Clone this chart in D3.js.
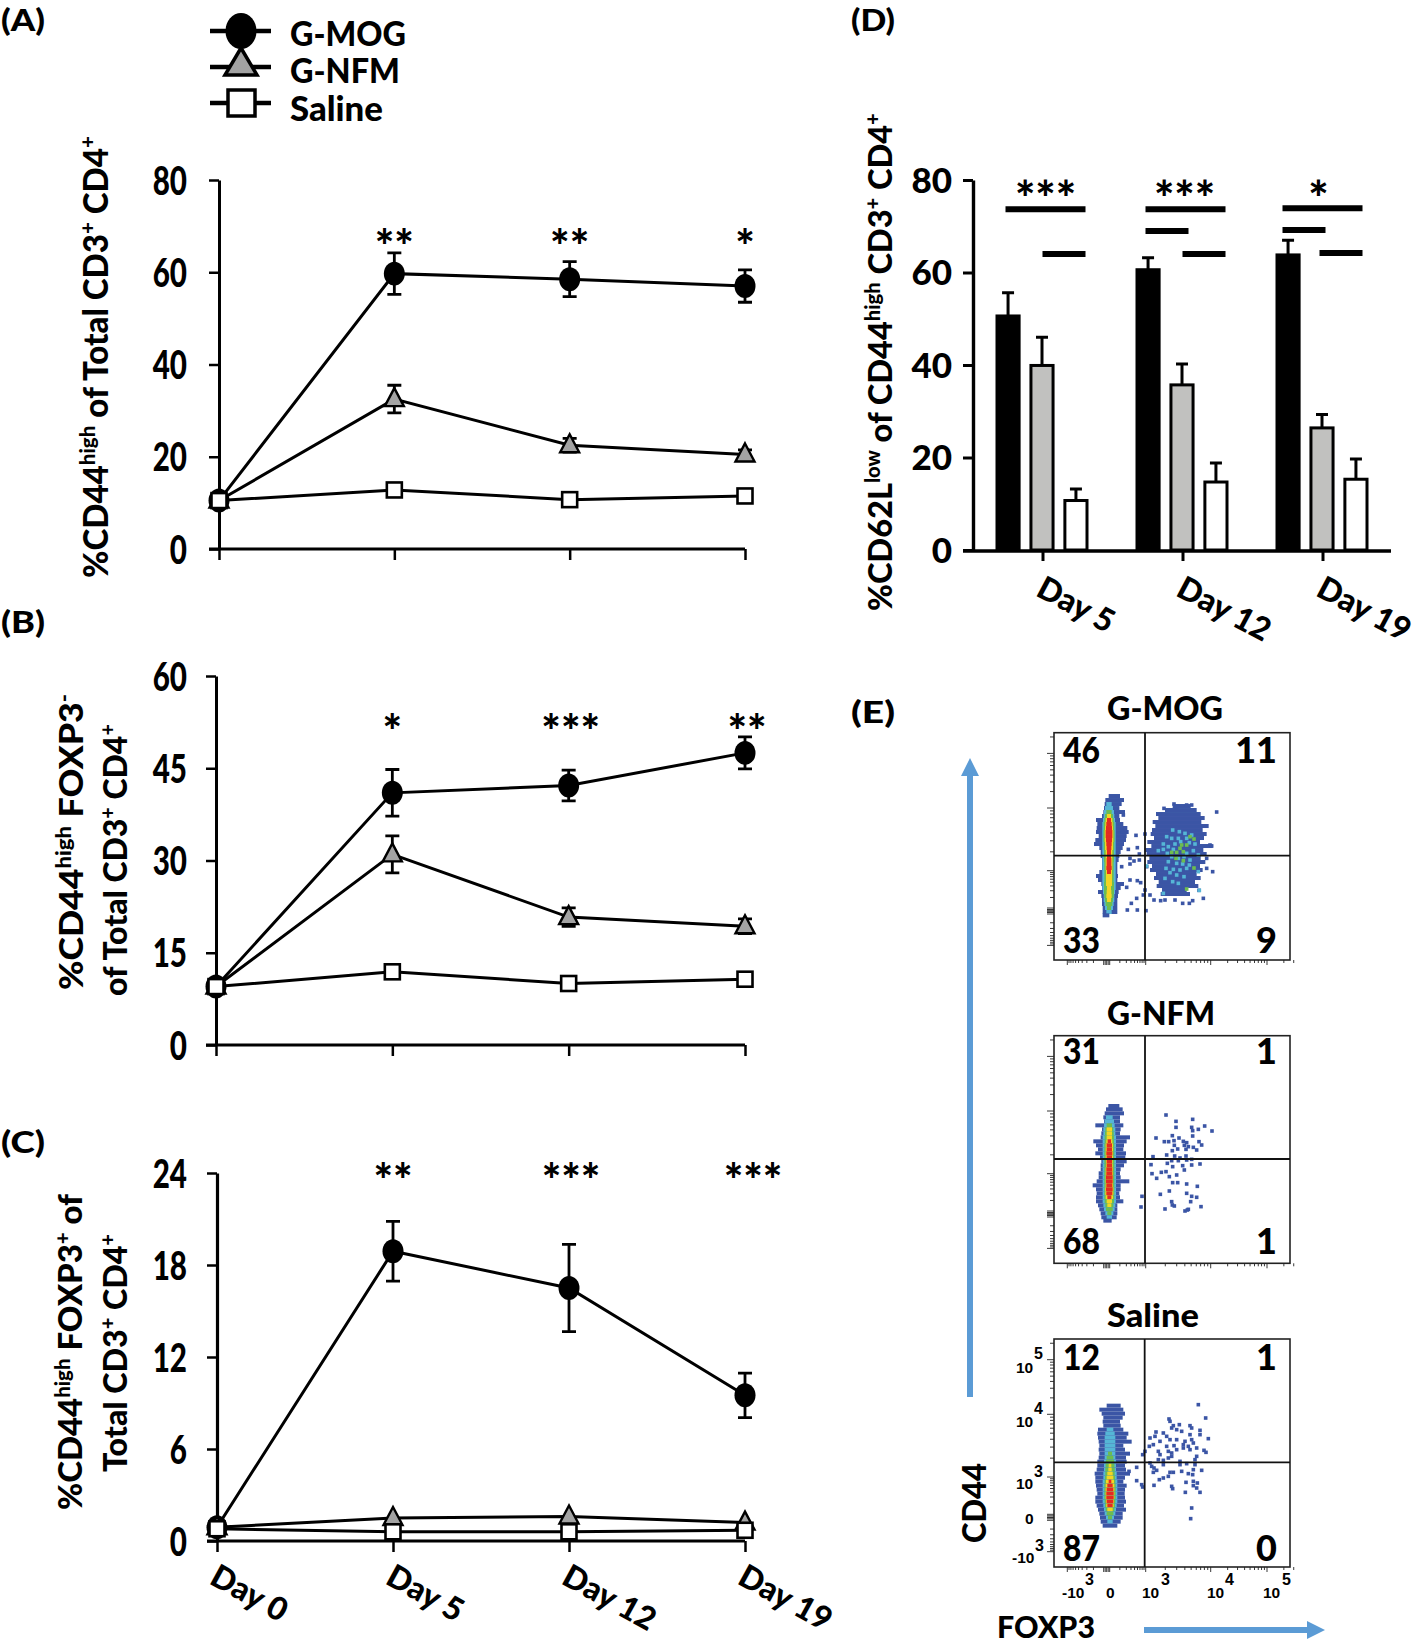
<!DOCTYPE html>
<html><head><meta charset="utf-8">
<script src="https://cdn.jsdelivr.net/npm/d3@7"></script>
<style>html,body{margin:0;padding:0;background:#fff}svg{display:block}text{font-family:Lato,"Open Sans",sans-serif;font-weight:900;fill:#000}</style>
</head><body>
<script>
// ---------- line panels data ----------
const days = ["Day 0","Day 5","Day 12","Day 19"];
const groups = ["G-MOG","G-NFM","Saline"];
const aTicks = [0,20,40,60,80];
const aMog = [10.5,59.7,58.5,57], aMogErr = [0,4.5,3.8,3.5];
const aNfm = [10.5,32.5,22.5,20.5], aNfmErr = [0,3,1.5,1];
const aSal = [10.5,12.8,10.7,11.5], aSalErr = [0,0.5,0.5,0.5];
const aStars = ["","**","**","*"];
const bTicks = [0,15,30,45,60];
const bMog = [9.5,41,42.2,47.5], bMogErr = [0,3.8,2.5,2.6];
const bNfm = [9.5,31,20.8,19.3], bNfmErr = [0,3,1.5,1.2];
const bSal = [9.5,11.9,10,10.7], bSalErr = [0,0.5,0.5,0.5];
const bStars = ["","*","***","**"];
const cTicks = [0,6,12,18,24];
const cMog = [0.9,18.9,16.5,9.5], cMogErr = [0,1.95,2.85,1.45];
const cNfm = [0.9,1.5,1.6,1.2], cNfmErr = [0,0.1,0.1,0.1];
const cSal = [0.8,0.6,0.6,0.7], cSalErr = [0,0.1,0.1,0.1];
const cStars = ["","**","***","***"];
// ---------- bar panel data ----------
const dDays = ["Day 5","Day 12","Day 19"];
const dTicks = [0,20,40,60,80];
const dMog = [50.6,60.6,63.8], dMogErr = [5,2.6,3.2];
const dNfm = [39.9,35.7,26.4], dNfmErr = [6.1,4.5,2.9];
const dSal = [10.7,14.7,15.3], dSalErr = [2.5,4.1,4.4];
const dStars = ["***","***","*"];
const dSigBars = [["Day 5","all",73.7],["Day 5","right",64],["Day 12","all",73.7],["Day 12","left",69],["Day 12","right",64],["Day 19","all",73.9],["Day 19","left",69.2],["Day 19","right",64.2]];
// ---------- flow plot data: [y, blueL, blueR, cyan, green, yellow, red] (half widths round the core) ----------
const mogCore = [[318,236,270],[330,226,282],[342,224,275,8],[354,222,268,12],[366,220,285,15,8],[378,216,268,16,12,6],[390,198,270,18,14,10,6],[402,202,280,20,16,11,8],[414,200,292,20,16,12,9],[426,198,296,20,17,13,10],[438,206,290,20,17,13,10],[450,196,288,20,17,13,9],[462,192,282,20,16,12,8],[474,208,278,20,16,12,7],[486,212,272,20,15,10,6],[498,212,268,20,15,10,6],[510,216,266,20,15,10,7],[522,216,262,20,14,10,7],[534,216,262,20,14,10,8],[546,208,262,20,14,9,6],[558,198,264,20,14,9],[570,204,262,20,14,9],[582,214,282,20,15,9],[594,216,272,20,15,6],[606,204,266,18,15,7],[618,214,264,16,14,8],[630,216,262,16,12,6],[642,216,262,14,10],[654,218,262,12,6],[666,218,262,8],[676,218,238]];
const mogBlob = [[348,428,482],[360,405,500],[372,378,512],[384,385,524],[396,368,514],[408,376,536],[420,366,518],[432,362,530],[444,372,522],[456,352,510],[468,364,548],[480,346,520],[492,350,530],[504,358,512],[516,352,526],[528,366,510],[540,360,518],[552,378,500],[564,372,512],[576,386,495],[588,380,505],[600,396,470],[612,392,480]];
const mogPts = [[560,366],[402,355],[432,342],[440,350],[470,345],[485,345],[318,436],[345,432],[278,425],[322,473],[295,478],[328,492],[300,505],[312,513],[328,510],[350,530],[275,530],[300,522],[300,570],[322,572],[332,578],[290,592],[345,600],[340,615],[320,625],[360,615],[304,640],[292,660],[322,660],[348,662],[372,630],[392,632],[405,630],[435,630],[458,640],[478,640],[488,632],[520,625],[507,601],[540,465],[545,468],[530,505],[548,545],[530,535],[280,375]];
const mogCyan = [[428,420],[448,425],[465,430],[410,440],[425,445],[445,445],[470,445],[485,435],[400,462],[415,470],[435,462],[452,455],[478,458],[495,462],[385,482],[400,478],[412,490],[430,478],[470,490],[490,482],[505,495],[425,500],[445,505],[462,500],[480,510],[415,515],[440,520],[458,522],[478,525],[408,535],[430,538],[450,540],[470,535],[505,545],[420,548],[440,555],[462,560],[405,565],[428,575],[445,580],[400,610],[508,601],[350,528]];
const mogGreen = [[425,487],[440,487],[455,465],[470,465],[460,485],[450,475],[492,447],[480,440],[438,505],[460,512],[492,534],[470,597]];
const nfmCore = [[318,235,268],[328,228,278],[340,224,282],[352,220,270,10],[364,222,270,14],[376,196,280,16,8],[388,216,272,18,12,8],[400,214,270,18,13,8],[412,212,300,20,14,8],[424,190,290,20,14,9,5],[436,198,282,20,15,11,8],[448,204,280,20,15,11,8],[460,196,288,20,15,11,9],[472,210,286,20,15,11,8],[484,214,290,20,15,10,8],[496,212,282,20,15,10,8],[508,212,272,20,15,11,9],[520,206,270,20,15,11,9],[532,206,272,20,15,11,10],[544,200,298,20,15,11,10],[556,188,272,20,15,11,9],[568,198,272,20,15,12,10],[580,200,268,20,15,12,9],[592,198,270,20,15,11,6],[604,198,280,20,14,8],[616,204,262,18,12,6],[628,208,262,16,10],[640,212,262,12,6],[652,214,260,8],[662,220,245]];
const nfmPts = [[408,345],[438,364],[488,358],[438,382],[485,382],[505,388],[524,378],[546,393],[488,392],[427,407],[378,414],[403,425],[416,425],[432,422],[447,414],[460,424],[470,428],[488,408],[507,425],[433,436],[443,447],[463,436],[475,440],[490,442],[500,450],[515,435],[468,448],[427,452],[410,465],[369,470],[434,468],[450,474],[468,468],[425,482],[445,482],[470,480],[485,478],[412,490],[363,494],[428,500],[458,497],[485,495],[510,492],[463,510],[394,517],[408,515],[418,530],[440,525],[366,521],[380,535],[428,548],[443,548],[470,552],[502,559],[418,573],[391,583],[470,580],[485,589],[500,592],[482,605],[425,605],[427,615],[433,618],[405,627],[513,620],[475,628],[465,633],[472,630],[336,589],[333,621]];
const salCore = [[318,470,512],[330,448,520],[342,455,525],[354,460,518],[366,458,510],[378,460,512],[390,444,520,10],[402,442,535,14],[414,444,530,16],[426,446,545,16],[438,448,520,16],[450,446,525,16],[462,448,540,16,6],[474,446,528,16,10],[486,442,530,18,12],[498,442,525,18,13,4],[510,440,528,18,14,5],[522,434,540,20,14,8],[534,436,525,20,15,10],[546,436,520,22,16,12,4],[558,438,530,22,17,13,8],[570,440,525,22,17,13,10],[582,442,524,22,17,13,11],[594,436,525,22,17,13,11],[606,436,528,22,16,12,10],[618,440,522,20,15,11,8],[630,444,528,18,13,8],[642,448,518,16,10],[654,450,518,12,6],[666,452,512,8],[678,458,502]];
const salPts = [[745,315],[767,355],[657,358],[660,365],[688,375],[670,378],[720,378],[665,385],[680,390],[695,395],[725,385],[750,392],[618,397],[640,400],[600,415],[615,410],[650,410],[720,405],[750,405],[775,417],[630,425],[660,420],[680,420],[705,425],[725,420],[610,435],[598,440],[650,440],[672,438],[700,435],[715,440],[730,430],[740,445],[585,455],[578,465],[625,455],[630,465],[655,455],[665,460],[680,450],[700,445],[720,450],[762,452],[768,458],[740,470],[625,480],[640,482],[655,475],[665,470],[690,485],[735,480],[600,490],[640,495],[690,495],[710,492],[735,495],[560,503],[605,500],[612,505],[620,512],[660,518],[670,518],[695,515],[730,510],[755,512],[537,515],[610,518],[715,522],[728,525],[655,530],[640,535],[628,540],[560,543],[575,555],[612,557],[578,562],[665,560],[668,567],[708,548],[730,545],[742,550],[730,558],[740,565],[706,578],[750,578],[725,625],[722,657]];
const quadMog = ["46","11","33","9"], quadNfm = ["31","1","68","1"], quadSal = ["12","1","87","0"];

// ---------- helpers ----------
const svg = d3.select("body").append("svg").attr("width",1418).attr("height",1643).attr("viewBox","0 0 1418 1643");
svg.append("rect").attr("width",1418).attr("height",1643).attr("fill","#fff");
const defs = svg.append("defs");
defs.append("filter").attr("id","soft").append("feGaussianBlur").attr("stdDeviation",0.4);

function label(g,str,x,y,size,o={}){
  const t = g.append("text").attr("font-size",size).attr("text-anchor",o.anchor||"start");
  const parts = str.split("^");
  let shifted=false;
  parts.forEach((p,i)=>{
    if(!p) return;
    const sup = i%2===1;
    const ts = t.append("tspan").text(p);
    if(sup){ ts.attr("font-size",size*0.62).attr("dy",-size*0.36); shifted=true; }
    else if(shifted){ ts.attr("dy",size*0.36); shifted=false; }
  });
  let sx = o.sx||1;
  if(o.len){ sx = o.len/t.node().getComputedTextLength(); }
  t.attr("transform",`translate(${x},${y}) rotate(${o.rotate||0}) scale(${sx},${o.sy||1})`);
  return t;
}
const xPos = (x0,x1)=>d3.scalePoint().domain(days).range([x0,x1]);
const BLACK="#000";

function linePanel(cfg){
  const g = svg.append("g");
  const x = xPos(cfg.x0,cfg.x1);
  const y = d3.scaleLinear().domain(cfg.domain).range([cfg.y0,cfg.y1]);
  const ya = g.append("g").attr("transform",`translate(${cfg.x0},0)`)
    .call(d3.axisLeft(y).tickValues(cfg.ticks).tickSize(10).tickSizeOuter(0).tickFormat(d3.format("d")));
  const xa = g.append("g").attr("transform",`translate(0,${cfg.y0})`)
    .call(d3.axisBottom(x).tickSize(11).tickSizeOuter(0).tickFormat(""));
  [ya,xa].forEach(a=>{a.selectAll("path").attr("stroke",BLACK).attr("stroke-width",cfg.axisW||3);a.selectAll("line").attr("stroke",BLACK).attr("stroke-width",2.5);});
  xa.select("path").attr("d",`M${cfg.x0-10},0H${cfg.x1}`);
  ya.selectAll("text").each(function(){
    d3.select(this).attr("x",null).attr("dy",null).attr("font-size",40).attr("text-anchor","end")
      .attr("transform",`translate(${cfg.labelX-cfg.x0},14) scale(.74,1)`);
  });
  const line = d3.line().x((d,i)=>x(days[i])).y(d=>y(d));
  cfg.series.forEach(s=>{
    g.append("path").attr("d",line(s.v)).attr("fill","none").attr("stroke",BLACK).attr("stroke-width",3);
  });
  cfg.series.forEach(s=>{
    s.v.forEach((v,i)=>{
      const e=s.e[i]; if(!e||e<0.6&&s.kind!=="circle") return;
      const cx=x(days[i]);
      g.append("path").attr("d",`M${cx},${y(v-e)}V${y(v+e)}M${cx-7},${y(v+e)}H${cx+7}M${cx-7},${y(v-e)}H${cx+7}`)
       .attr("fill","none").attr("stroke",BLACK).attr("stroke-width",2.8);
    });
  });
  cfg.series.forEach(s=>{
    s.v.forEach((v,i)=>marker(g,s.kind,x(days[i]),y(v)));
  });
  cfg.stars.forEach((st,i)=>{ if(st) label(g,st,x(days[i])+(cfg.starDx?cfg.starDx[i]:0),cfg.starY,46,{anchor:"middle"}); });
  return {x,y};
}
function marker(g,kind,cx,cy,k=1){
  if(kind==="circle") g.append("ellipse").attr("cx",cx).attr("cy",cy).attr("rx",10.5*k).attr("ry",12*k).attr("fill",BLACK);
  if(kind==="tri") g.append("path").attr("d",d3.line()([[cx,cy-11*k],[cx+9.5*k,cy+7*k],[cx-9.5*k,cy+7*k]])+"Z").attr("fill","#a3a3a3").attr("stroke",BLACK).attr("stroke-width",2.4);
  if(kind==="square") g.append("rect").attr("x",cx-7.5*k).attr("y",cy-7.5*k).attr("width",15*k).attr("height",15*k).attr("fill","#fff").attr("stroke",BLACK).attr("stroke-width",2.6);
}
const ser=(m,me,n,ne,s,se)=>[{kind:"circle",v:m,e:me},{kind:"tri",v:n,e:ne},{kind:"square",v:s,e:se}];

linePanel({x0:219,x1:745,y0:549,y1:180,domain:[0,80],ticks:aTicks,labelX:187,series:ser(aMog,aMogErr,aNfm,aNfmErr,aSal,aSalErr),stars:aStars,starY:263,starDx:[0,0,0,0]});
linePanel({x0:216,x1:745,y0:1045,y1:676,domain:[0,60],ticks:bTicks,labelX:187,series:ser(bMog,bMogErr,bNfm,bNfmErr,bSal,bSalErr),stars:bStars,starY:748,starDx:[0,0,2,2]});
const pc = linePanel({x0:217,x1:745,y0:1541,y1:1173,domain:[0,24],ticks:cTicks,labelX:187,axisW:3.2,series:ser(cMog,cMogErr,cNfm,cNfmErr,cSal,cSalErr),stars:cStars,starY:1197,starDx:[0,0,2,8]});
days.forEach(d=>label(svg,d,pc.x(d)-9,1583,32,{rotate:29}));

// legend
const legY = d3.scalePoint().domain(groups).range([31,103]);
const legLen = {"G-MOG":116,"G-NFM":110,"Saline":93};
const legOff = {"G-MOG":15,"G-NFM":16,"Saline":18};
groups.forEach(n=>{
  const yy=legY(n);
  svg.append("line").attr("x1",210).attr("x2",271).attr("y1",yy).attr("y2",yy).attr("stroke",BLACK).attr("stroke-width",4.5);
  const gg=svg.append("g");
  if(n==="G-MOG") gg.append("ellipse").attr("cx",241).attr("cy",yy).attr("rx",15.5).attr("ry",18).attr("fill",BLACK);
  if(n==="G-NFM") gg.append("path").attr("d",d3.line()([[241,yy-19],[257,yy+8],[225,yy+8]])+"Z").attr("fill","#a3a3a3").attr("stroke",BLACK).attr("stroke-width",3.5);
  if(n==="Saline") gg.append("rect").attr("x",228).attr("y",yy-13).attr("width",27).attr("height",26).attr("fill","#fff").attr("stroke",BLACK).attr("stroke-width",3.5);
  label(svg,n,290,yy+legOff[n],34,{len:legLen[n]});
});

// panel letters
[["(A)",1,31],["(B)",1,633],["(C)",1,1153],["(D)",851,31],["(E)",851,723]].forEach(p=>label(svg,p[0],p[1],p[2],31,{len:44}));

// y titles
label(svg,"%CD44^high^ of Total CD3^+^ CD4^+^",108,578,35,{rotate:-90,len:442});
label(svg,"%CD44^high^ FOXP3^-^",83,990,33,{rotate:-90,len:296});
label(svg,"of Total CD3^+^ CD4^+^",127,996,33,{rotate:-90,len:272});
label(svg,"%CD44^high^ FOXP3^+^ of",82,1510,33,{rotate:-90,len:316});
label(svg,"Total CD3^+^ CD4^+^",127,1472,33,{rotate:-90,len:238});
label(svg,"%CD62L^low^ of CD44^high^ CD3^+^ CD4^+^",892,611,33,{rotate:-90,len:498});

// ---------- panel D ----------
(function(){
  const g=svg.append("g");
  const x0=d3.scaleBand().domain(dDays).range([972.5,1392.5]);
  const x1=d3.scaleBand().domain(groups).range([23,116]).paddingInner(.26);
  const y=d3.scaleLinear().domain([0,80]).range([550,180]);
  const ya=g.append("g").attr("transform","translate(973,0)").call(d3.axisLeft(y).tickValues(dTicks).tickSize(10).tickSizeOuter(0));
  ya.selectAll("path").attr("stroke",BLACK).attr("stroke-width",3.4);
  ya.selectAll("line").attr("stroke",BLACK).attr("stroke-width",3);
  ya.selectAll("text").attr("x",-21).attr("dy",12).attr("font-size",35).attr("text-anchor","end");
  const fills={"G-MOG":BLACK,"G-NFM":"#c1c1bf","Saline":"#fff"};
  const vals={"G-MOG":[dMog,dMogErr],"G-NFM":[dNfm,dNfmErr],"Saline":[dSal,dSalErr]};
  groups.forEach(n=>{
    dDays.forEach((d,i)=>{
      const bx=x0(d)+x1(n), w=x1.bandwidth(), v=vals[n][0][i], e=vals[n][1][i];
      g.append("path").attr("d",`M${bx+w/2},${y(v)}V${y(v+e)}M${bx+w/2-6},${y(v+e)}H${bx+w/2+6}`).attr("stroke",BLACK).attr("stroke-width",3).attr("fill","none");
      g.append("rect").attr("x",bx+1.5).attr("y",y(v)).attr("width",w-3).attr("height",y(0)-y(v)).attr("fill",fills[n]).attr("stroke",BLACK).attr("stroke-width",3);
    });
  });
  const xa=g.append("g").attr("transform","translate(0,551)").call(d3.axisBottom(d3.scalePoint().domain(dDays).range([x0("Day 5")+70,x0("Day 19")+70])).tickSize(10).tickSizeOuter(0).tickFormat(""));
  xa.select("path").attr("d","M963,0H1391").attr("stroke",BLACK).attr("stroke-width",3.4);
  xa.selectAll("line").attr("stroke",BLACK).attr("stroke-width",3);
  dDays.forEach(d=>label(g,d,x0(d)+70-8,595,32,{rotate:28}));
  const spans={all:[-37,43],left:[-37,6],right:[0,43]};
  const shift={"Day 5":0,"Day 12":0,"Day 19":-3};
  dSigBars.forEach(b=>{
    const c=x0(b[0])+70+shift[b[0]], s=spans[b[1]];
    g.append("line").attr("x1",c+s[0]).attr("x2",c+s[1]).attr("y1",y(b[2])).attr("y2",y(b[2])).attr("stroke",BLACK).attr("stroke-width",6);
  });
  dStars.forEach((st,i)=>label(g,st,x0(dDays[i])+70+[3,2,-4][i],216,48,{anchor:"middle"}));
})();

// ---------- flow panels ----------
const LV=["#3a55a5","#55b6d6","#6dbd50","#f4d423","#e42a22"];
function flow(c){
  const g=svg.append("g");
  const sx=d3.scaleLinear().domain(c.dx).range([1054,1290]);
  const sy=d3.scaleLinear().domain(c.dy).range(c.ry);
  const gs=g.append("g").attr("filter","url(#soft)");
  const rh=sy(12)-sy(0);
  function rows(list,center){
    list.forEach(r=>{
      gs.append("rect").attr("x",sx(r[1])).attr("width",sx(r[2])-sx(r[1])).attr("y",sy(r[0]-6)).attr("height",rh).attr("fill",LV[0]);
      for(let k=3;k<7;k++){ if(r[k]) gs.append("rect").attr("x",sx(center-r[k])).attr("width",sx(center+r[k])-sx(center-r[k])).attr("y",sy(r[0]-6)).attr("height",rh).attr("fill",LV[k-2]); }
    });
  }
  const dots=(pts,col)=>gs.selectAll(null).data(pts).join("rect").attr("x",d=>sx(d[0])-1.8).attr("y",d=>sy(d[1])-1.8).attr("width",3.6).attr("height",3.6).attr("fill",col);
  rows(c.core,c.center);
  if(c.blob) rows(c.blob,c.blobC);
  dots(c.pts,LV[0]);
  if(c.cyan) dots(c.cyan,LV[1]);
  if(c.green) dots(c.green,LV[2]);
  g.append("rect").attr("x",1054).attr("y",c.ry[0]).attr("width",236).attr("height",c.ry[1]-c.ry[0]).attr("fill","none").attr("stroke","#222").attr("stroke-width",1.6);
  g.append("line").attr("x1",sx(c.gx)).attr("x2",sx(c.gx)).attr("y1",c.ry[0]).attr("y2",c.ry[1]).attr("stroke","#111").attr("stroke-width",1.8);
  g.append("line").attr("x1",1054).attr("x2",1290).attr("y1",sy(c.gy)).attr("y2",sy(c.gy)).attr("stroke","#111").attr("stroke-width",1.8);
  const top=c.ry[0];
  const mj=[20.7,75.3,138,178.3,212.7].map(v=>top+v);
  const tick=(x1,x2,y)=>g.append("line").attr("x1",x1).attr("x2",x2).attr("y1",y).attr("y2",y).attr("stroke","#222").attr("stroke-width",.9);
  const logS=d3.scaleLog().domain([1,10]);
  [[mj[1],mj[0]],[mj[2],mj[1]]].forEach(p=>{logS.range(p);[2,3,4,5,6,7,8,9].forEach(v=>tick(1050,1054,logS(v)));});
  logS.range([mj[0],mj[0]-(mj[1]-mj[0])]);[2,3,4,5,6].forEach(v=>{const yy=logS(v);if(yy>top)tick(1050,1054,yy);});
  logS.range([mj[3]-2,mj[2]]);[2,3,4,5,6,7,8,9].forEach(v=>tick(1050,1054,logS(v)));
  logS.range([mj[3]+2,mj[4]]);[2,3,4,5,6,7,8,9].forEach(v=>tick(1050,1054,logS(v)));
  [-3,-1.5,0,1.5,3].forEach(o=>tick(1047,1054,mj[3]+o));
  mj.forEach(v=>tick(1047,1054,v));
  const bot=c.ry[1], fx=[13.3,52.7,91.7,156.7,213].map(v=>1054+v);
  const vt=(x,l)=>g.append("line").attr("x1",x).attr("x2",x).attr("y1",bot).attr("y2",bot+l).attr("stroke","#222").attr("stroke-width",.9);
  fx.forEach(v=>vt(v,5));
  [-3,-1.5,1.5,3].forEach(o=>vt(fx[1]+o,5));
  [[fx[2],fx[3]],[fx[3],fx[4]]].forEach(p=>{logS.range(p);[2,3,4,5,6,7,8,9].forEach(v=>vt(logS(v),3));});
  logS.range([fx[1]+2,fx[2]]);[2,3,4,5,6,7,8,9].forEach(v=>vt(logS(v),3));
  logS.range([fx[1]-2,fx[0]]);[2,3,4,5,6,7,8,9].forEach(v=>vt(logS(v),3));
  logS.range([fx[4],fx[4]+56]);[2,3].forEach(v=>vt(logS(v),3));
  label(g,c.name,1107,c.titleY,32,{len:c.titleLen});
  label(g,c.q[0],1063,c.q0y,36,{len:37});
  label(g,c.q[1],1277,c.q0y,36,{anchor:"end"});
  label(g,c.q[2],1063,c.q1y,36,{len:37});
  label(g,c.q[3],1277,c.q1y,36,{anchor:"end"});
}
flow({name:"G-MOG",titleY:720,titleLen:116,dx:[72,780],dy:[128,810],ry:[732.7,960],gx:345,gy:497,core:mogCore,center:237,blob:mogBlob,blobC:440,pts:mogPts,cyan:mogCyan,green:mogGreen,q:quadMog,q0y:763,q1y:953});
flow({name:"G-NFM",titleY:1025,titleLen:108,dx:[72,780],dy:[107,790],ry:[1035.7,1263.3],gx:345,gy:477,core:nfmCore,center:238,pts:nfmPts,q:quadNfm,q0y:1064,q1y:1254});
flow({name:"Saline",titleY:1327,titleLen:92,dx:[312,1020],dy:[118,802],ry:[1339,1567],gx:584,gy:488,core:salCore,center:480,pts:salPts,q:quadSal,q0y:1370,q1y:1561});

// saline tick labels
const F="Liberation Sans";
function sci(base,exp,x,y,ex,ey){
  svg.append("text").attr("x",x).attr("y",y).attr("font-size",15.5).style("font-family",F).style("font-weight",700).text(base);
  if(exp) svg.append("text").attr("x",ex).attr("y",ey).attr("font-size",16).style("font-family",F).style("font-weight",700).text(exp);
}
sci("10","5",1016,1373,1034,1359);
sci("10","4",1016,1427,1034,1414);
sci("10","3",1016,1489,1034,1477);
sci("0","",1025,1524);
sci("-10","3",1012,1563,1035,1551);
sci("-10","3",1062,1598,1085,1585);
sci("0","",1106,1598);
sci("10","3",1142,1598,1161,1585);
sci("10","4",1207,1598,1225,1585);
sci("10","5",1263,1598,1282,1585);

label(svg,"CD44",986,1543,32,{rotate:-90,len:80});
label(svg,"FOXP3",997,1638,30,{len:98});
const AR="#5b9bd5";
svg.append("path").attr("d","M967,1397V776H961L970,758L979,776H973V1397Z").attr("fill",AR);
svg.append("path").attr("d","M1144,1627H1307V1621L1325,1630L1307,1639V1633H1144Z").attr("fill",AR);
</script>
</body></html>
